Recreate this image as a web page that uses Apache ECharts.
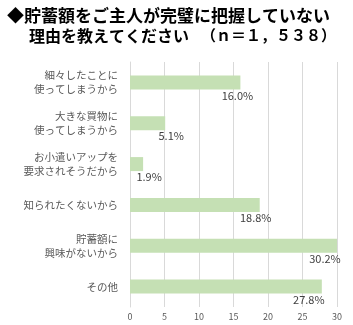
<!DOCTYPE html>
<html><head><meta charset="utf-8">
<script src="https://cdn.jsdelivr.net/npm/echarts@6/dist/echarts.min.js"></script>
<style>html,body{margin:0;padding:0;background:#fff}#c{width:353px;height:325px}</style>
</head><body><div id="c"></div>
<script>
const titleLine1 = "◆貯蓄額をご主人が完璧に把握していない";
const titleLine2 = "理由を教えてください";
const titleN = "（ｎ＝１，５３８）";
const categories = ["細々したことに\n使ってしまうから","大きな買物に\n使ってしまうから","お小遣いアップを\n要求されそうだから","知られたくないから","貯蓄額に\n興味がないから","その他"];
const values = [16.0, 5.1, 1.9, 18.8, 30.2, 27.8];
const xTicks = [0, 5, 10, 15, 20, 25, 30];

const labelDx = [-3, 6, 6, -4, -12, -13];
const chart = echarts.init(document.getElementById('c'), null, {renderer:'canvas'});
const font = '"Noto Sans CJK JP", sans-serif';
chart.setOption({
  animation:false,
  title:[
    {text:titleLine1,left:2,top:2,textStyle:{fontFamily:font,fontSize:17,fontWeight:'bold',color:'#000'}},
    {text:titleLine2,left:24,top:23,textStyle:{fontFamily:font,fontSize:16,fontWeight:'bold',color:'#000'}},
    {text:titleN,left:196,top:23,textStyle:{fontFamily:font,fontSize:15,fontWeight:'bold',color:'#000'}}
  ],
  grid:{left:130,right:16,top:62,bottom:18},
  xAxis:{type:'value',min:xTicks[0],max:xTicks[xTicks.length-1],interval:xTicks[1]-xTicks[0],
    axisLine:{show:false},axisTick:{show:false},
    splitLine:{lineStyle:{color:'#d9d9d9',width:1}},
    axisLabel:{fontFamily:font,fontSize:9,color:'#595959',margin:5}},
  yAxis:{type:'category',data:categories,inverse:true,
    axisLine:{show:true,lineStyle:{color:'#d9d9d9'}},axisTick:{show:false},
    axisLabel:{fontFamily:font,fontSize:10.5,color:'#595959',margin:12,lineHeight:14,align:'right'}},
  series:[{type:'bar',barWidth:14,
    data:values.map((v,i)=>({value:v,label:{offset:[labelDx[i],13]}})),
    itemStyle:{color:'#c5e0b4'},
    label:{show:true,position:'right',distance:0,align:'center',fontFamily:font,fontSize:11,color:'#404040',
      formatter:p=>p.value.toFixed(1)+'%'}}]
});
</script></body></html>
